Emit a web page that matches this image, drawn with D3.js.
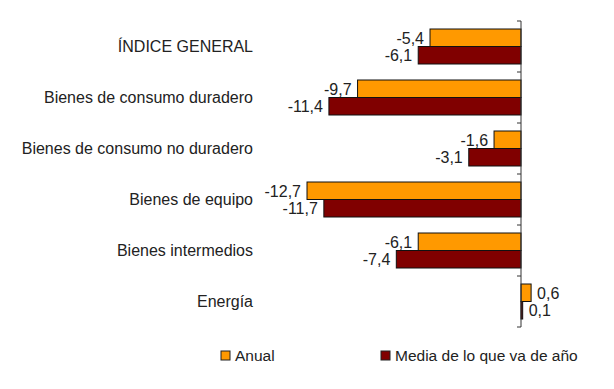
<!DOCTYPE html>
<html>
<head>
<meta charset="utf-8">
<script src="https://cdn.jsdelivr.net/npm/d3@7"></script>
<style>
  body { margin: 0; background: #fff; }
  text { font-family: "Liberation Sans", Arial, sans-serif; fill: #222; }
</style>
</head>
<body>
<script>
var width = 614;
var height = 389;

var categories = ['ÍNDICE GENERAL', 'Bienes de consumo duradero', 'Bienes de consumo no duradero',
  'Bienes de equipo', 'Bienes intermedios', 'Energía'];
var seriesNames = ['Anual', 'Media de lo que va de año'];
var anual = [-5.4, -9.7, -1.6, -12.7, -6.1, 0.6];
var media = [-6.1, -11.4, -3.1, -11.7, -7.4, 0.1];
var colors = ['#ff9900', '#800000'];

var svg = d3.select('body').append('svg')
  .attr('width', width)
  .attr('height', height);

// zero line sits at x=521, about 16.85px per point
var x = d3.scaleLinear().domain([-14, 2]).range([521 - 14 * 16.85, 521 + 2 * 16.85]);
var y = d3.scaleBand().domain(categories).range([21, 327]);
var inner = d3.scaleBand().domain(seriesNames).range([8, 43]);

// spanish style: hyphen minus and decimal comma
function fmt(v) {
  return d3.format('.1f')(v).replace('\u2212', '-').replace('.', ',');
}

var rows = categories.map(function (c, i) {
  return { cat: c, vals: [anual[i], media[i]] };
});

var groups = svg.selectAll('.grp').data(rows).enter().append('g')
  .attr('class', 'grp')
  .attr('transform', function (d) { return 'translate(0,' + y(d.cat) + ')'; });

groups.selectAll('rect').data(function (d) {
  return d.vals.map(function (v, j) { return { v: v, s: seriesNames[j], j: j }; });
}).enter().append('rect')
  .attr('x', function (d) { return x(Math.min(0, d.v)); })
  .attr('y', function (d) { return inner(d.s); })
  .attr('width', function (d) { return Math.abs(x(d.v) - x(0)); })
  .attr('height', inner.bandwidth())
  .attr('fill', function (d) { return colors[d.j]; })
  .attr('stroke', '#111')
  .attr('stroke-width', 1);

groups.selectAll('.val').data(function (d) {
  return d.vals.map(function (v, j) { return { v: v, s: seriesNames[j], j: j }; });
}).enter().append('text')
  .attr('class', 'val')
  .attr('x', function (d) { return d.v < 0 ? x(d.v) - 6 : x(d.v) + 6; })
  .attr('y', function (d) { return inner(d.s) + inner.bandwidth() / 2 + 0.5; })
  .attr('dy', '0.35em')
  .attr('text-anchor', function (d) { return d.v < 0 ? 'end' : 'start'; })
  .style('font-size', '16px')
  .text(function (d) { return fmt(d.v); });

// axis at zero
svg.append('line')
  .attr('x1', x(0)).attr('x2', x(0))
  .attr('y1', y.range()[0]).attr('y2', y.range()[1])
  .attr('stroke', '#333');
svg.selectAll('.tick-mark').data(d3.range(categories.length + 1)).enter().append('line')
  .attr('x1', x(0) - 4).attr('x2', x(0))
  .attr('y1', function (i) { return y.range()[0] + i * y.step(); })
  .attr('y2', function (i) { return y.range()[0] + i * y.step(); })
  .attr('stroke', '#333');

// category labels
svg.selectAll('.cat').data(categories).enter().append('text')
  .attr('class', 'cat')
  .attr('x', 253)
  .attr('y', function (d) { return y(d) + y.bandwidth() / 2; })
  .attr('dy', '0.35em')
  .attr('text-anchor', 'end')
  .style('font-size', '16px')
  .text(function (d) { return d; });

// legend
var legendX = [221, 381];
var legend = svg.selectAll('.leg').data(seriesNames).enter().append('g')
  .attr('class', 'leg')
  .attr('transform', function (d, i) { return 'translate(' + legendX[i] + ',351)'; });
legend.append('rect')
  .attr('width', 9).attr('height', 9)
  .attr('fill', function (d, i) { return colors[i]; })
  .attr('stroke', '#222');
legend.append('text')
  .attr('x', 14)
  .attr('y', 4.5)
  .attr('dy', '0.35em')
  .style('font-size', '15.5px')
  .text(function (d) { return d; });
</script>
</body>
</html>
